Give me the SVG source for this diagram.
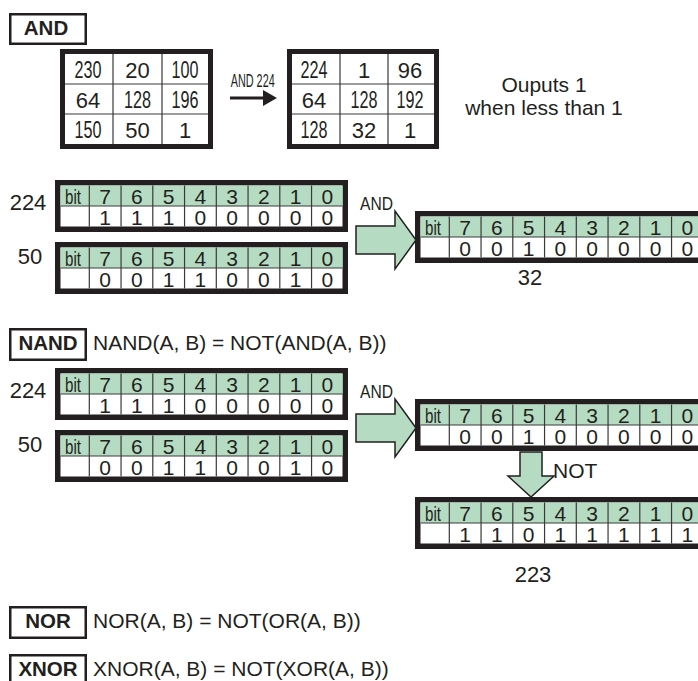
<svg xmlns="http://www.w3.org/2000/svg" xmlns:xlink="http://www.w3.org/1999/xlink" width="698" height="681" viewBox="0 0 698 681">
<style>
text{font-family:"Liberation Sans",Arial,sans-serif;fill:#231f20}
.lbl{font-size:20.5px;font-weight:bold;text-anchor:middle}
.box{fill:#fff;stroke:#231f20;stroke-width:2.5}
.desc{font-size:21px}
.num{font-size:22px;text-anchor:middle}
.n3{font-size:23px;text-anchor:middle}
.mat{fill:#fff;stroke:#231f20;stroke-width:5}
.grid{stroke:#3a3a3a;stroke-width:1.2;fill:none}
.bd{font-size:21px;text-anchor:middle}
.blk{fill:#b5dcc2;stroke:#231f20;stroke-width:1.5;stroke-linejoin:miter}
</style>
<defs>
<g id="bitframe">
<rect x="2.75" y="2.75" width="287.5" height="46.5" fill="#fff" stroke="#231f20" stroke-width="5.5"/>
<rect x="5.5" y="5.5" width="282" height="20.5" fill="#b5dcc2"/>
<line class="grid" x1="5.5" y1="26" x2="287.5" y2="26"/>
<path class="grid" d="M34.3 5.5V46.5M66.05 5.5V46.5M97.8 5.5V46.5M129.55 5.5V46.5M161.3 5.5V46.5M193.05 5.5V46.5M224.8 5.5V46.5M256.55 5.5V46.5"/>
<text x="10" y="23.5" font-size="21" textLength="16" lengthAdjust="spacingAndGlyphs">bit</text>
<text class="bd" x="50.2 81.95 113.7 145.45 177.2 208.95 240.7 272.45" y="23.5">76543210</text>
</g>
</defs>

<g id="and-title">
<rect class="box" x="10.25" y="14.25" width="75.5" height="29.5"/>
<text class="lbl" x="46" y="35">AND</text>
</g>

<g id="matrix-in">
<rect class="mat" x="62.5" y="51.5" width="148" height="95"/>
<path class="grid" d="M113 54V144M162 54V144M65 84H208M65 114H208"/>
<text class="n3" x="88" y="78" textLength="27" lengthAdjust="spacingAndGlyphs">230</text>
<text class="num" x="137.5" y="78">20</text>
<text class="n3" x="185" y="78" textLength="27" lengthAdjust="spacingAndGlyphs">100</text>
<text class="num" x="88" y="108">64</text>
<text class="n3" x="137.5" y="108" textLength="27" lengthAdjust="spacingAndGlyphs">128</text>
<text class="n3" x="185" y="108" textLength="27" lengthAdjust="spacingAndGlyphs">196</text>
<text class="n3" x="88" y="138" textLength="27" lengthAdjust="spacingAndGlyphs">150</text>
<text class="num" x="137.5" y="138">50</text>
<text class="num" x="185" y="138">1</text>
</g>

<g id="matrix-out">
<rect class="mat" x="289.5" y="51.5" width="147" height="95"/>
<path class="grid" d="M340 54V144M388 54V144M292 84H434M292 114H434"/>
<text class="n3" x="314" y="78" textLength="27" lengthAdjust="spacingAndGlyphs">224</text>
<text class="num" x="364" y="78">1</text>
<text class="num" x="410" y="78">96</text>
<text class="num" x="314" y="108">64</text>
<text class="n3" x="364" y="108" textLength="27" lengthAdjust="spacingAndGlyphs">128</text>
<text class="n3" x="410" y="108" textLength="27" lengthAdjust="spacingAndGlyphs">192</text>
<text class="n3" x="314" y="138" textLength="27" lengthAdjust="spacingAndGlyphs">128</text>
<text class="num" x="364" y="138">32</text>
<text class="num" x="410" y="138">1</text>
</g>

<g id="note">
<text class="desc" x="544" y="92" text-anchor="middle">Ouputs 1</text>
<text class="desc" x="544" y="115" text-anchor="middle">when less than 1</text>
</g>

<g id="and-a">
<text class="num" x="28" y="210">224</text>
<g transform="translate(55,180)"><use xlink:href="#bitframe"/><text class="bd" x="50.2 81.95 113.7 145.45 177.2 208.95 240.7 272.45" y="45">11100000</text></g>
</g>
<g id="and-b">
<text class="num" x="30" y="264">50</text>
<g transform="translate(55,242)"><use xlink:href="#bitframe"/><text class="bd" x="50.2 81.95 113.7 145.45 177.2 208.95 240.7 272.45" y="45">00110010</text></g>
</g>
<g id="and-result">
<g transform="translate(415,211)"><use xlink:href="#bitframe"/><text class="bd" x="50.2 81.95 113.7 145.45 177.2 208.95 240.7 272.45" y="45">00100000</text></g>
<text class="num" x="530" y="285">32</text>
</g>

<g id="nand-title">
<rect class="box" x="10.25" y="329.25" width="75.5" height="30.5"/>
<text class="lbl" x="48" y="350">NAND</text>
<text class="desc" x="93" y="350">NAND(A, B) = NOT(AND(A, B))</text>
</g>
<g id="nand-a">
<text class="num" x="28" y="398">224</text>
<g transform="translate(55,368)"><use xlink:href="#bitframe"/><text class="bd" x="50.2 81.95 113.7 145.45 177.2 208.95 240.7 272.45" y="45">11100000</text></g>
</g>
<g id="nand-b">
<text class="num" x="30" y="452">50</text>
<g transform="translate(55,430)"><use xlink:href="#bitframe"/><text class="bd" x="50.2 81.95 113.7 145.45 177.2 208.95 240.7 272.45" y="45">00110010</text></g>
</g>
<g id="nand-and">
<g transform="translate(415,399)"><use xlink:href="#bitframe"/><text class="bd" x="50.2 81.95 113.7 145.45 177.2 208.95 240.7 272.45" y="45">00100000</text></g>
</g>
<g id="nand-not">
<g transform="translate(415,497)"><use xlink:href="#bitframe"/><text class="bd" x="50.2 81.95 113.7 145.45 177.2 208.95 240.7 272.45" y="45">11011111</text></g>
<text class="num" x="533" y="582">223</text>
</g>

<g id="nor-title">
<rect class="box" x="10.25" y="607.25" width="75.5" height="30.5"/>
<text class="lbl" x="48" y="628">NOR</text>
<text class="desc" x="93" y="628">NOR(A, B) = NOT(OR(A, B))</text>
</g>
<g id="xnor-title">
<rect class="box" x="10.25" y="655.25" width="75.5" height="30.5"/>
<text class="lbl" x="48" y="676">XNOR</text>
<text class="desc" x="93" y="676">XNOR(A, B) = NOT(XOR(A, B))</text>
</g>

<g id="connectors">
<line x1="230" y1="98" x2="264" y2="98" stroke="#231f20" stroke-width="3"/>
<polygon points="263,90 277,98 263,106" fill="#231f20"/>
<text x="230.7" y="86.7" font-size="18" textLength="44" lengthAdjust="spacingAndGlyphs">AND 224</text>
<polygon class="blk" points="356,226 395,226 395,211 416,240 395,269 395,254 356,254"/>
<text x="360" y="210" font-size="18" textLength="33" lengthAdjust="spacingAndGlyphs">AND</text>
<polygon class="blk" points="356,414 395,414 395,399 416,428 395,457 395,442 356,442"/>
<text x="360" y="398" font-size="18" textLength="33" lengthAdjust="spacingAndGlyphs">AND</text>
<polygon class="blk" points="520,452 542,452 542,476 554,476 531,497 508,476 520,476"/>
<text x="553" y="478" font-size="21">NOT</text>
</g>
</svg>
